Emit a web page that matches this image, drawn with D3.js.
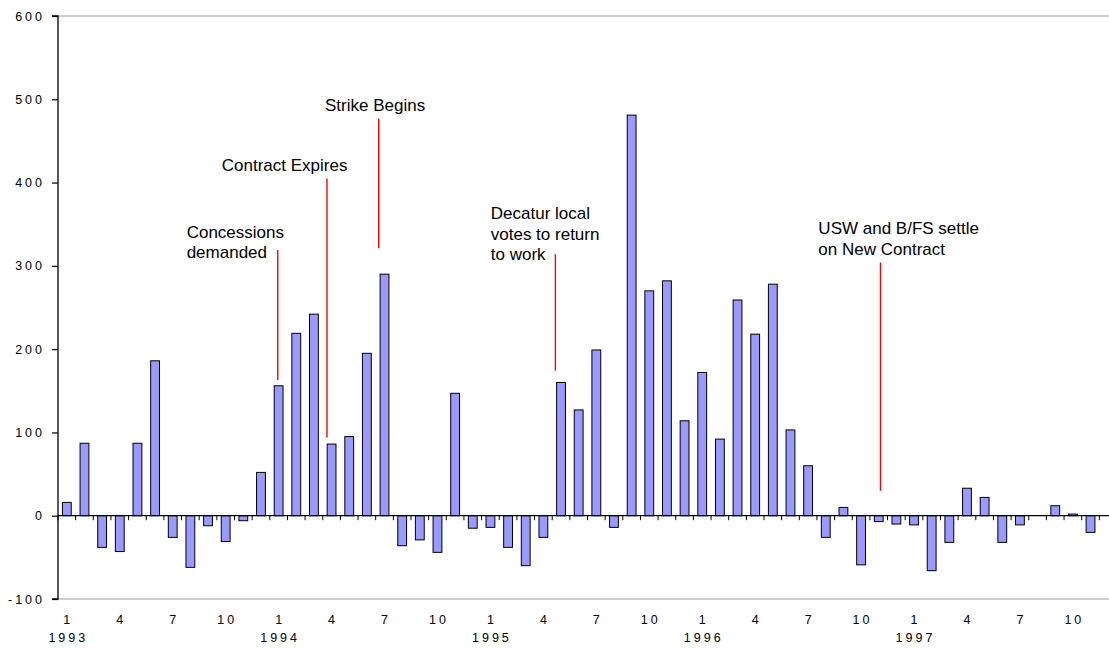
<!DOCTYPE html>
<html>
<head>
<meta charset="utf-8">
<script src="https://cdn.jsdelivr.net/npm/d3@7"></script>
<style>
  html, body { margin: 0; padding: 0; background: #fff; }
  svg { display: block; }
</style>
</head>
<body>
<svg id="chart" width="1109" height="648"></svg>
<script>
// ---- data ----
const years = [1993, 1994, 1995, 1996, 1997];
const months = [1,2,3,4,5,6,7,8,9,10,11,12];
const categories = years.flatMap(y => months.map(m => y + "-" + m));
const values1993 = [16, 87, -38, -43, 87, 186, -26, -62, -12, -31, -6, 52];
const values1994 = [156, 219, 242, 86, 95, 195, 290, -36, -29, -44, 147, -15];
const values1995 = [-14, -38, -60, -26, 160, 127, 199, -14, 481, 270, 282, 114];
const values1996 = [172, 92, 259, 218, 278, 103, 60, -26, 10, -59, -7, -10];
const values1997 = [-11, -66, -32, 33, 22, -32, -11, 0, 12, 2, -20, null];
const values = [...values1993, ...values1994, ...values1995, ...values1996, ...values1997];
const yTicks = [-100, 0, 100, 200, 300, 400, 500, 600];
const monthTickLabels = [1, 4, 7, 10];
// annotations: month index (fractional), value range of red line, text anchor (month index, value)
const annotations = [
  { lines: ["Concessions", "demanded"], tx: 6.79, ty: 334, lx: 11.95, from: 163, to: 319 },
  { lines: ["Contract Expires"], tx: 8.78, ty: 414, lx: 14.74, from: 94, to: 405 },
  { lines: ["Strike Begins"], tx: 14.63, ty: 486, lx: 17.67, from: 321, to: 477 },
  { lines: ["Decatur local", "votes to return", "to work"], tx: 24.02, ty: 356, lx: 27.68, from: 174, to: 314 },
  { lines: ["USW and B/FS settle", "on New Contract"], tx: 42.58, ty: 338, lx: 46.1, from: 30, to: 304 }
];

(function () {
// ---- layout ----
const mLeft = 58, mTop = 16, mBottom = 599, mRight = 1117;
const svg = d3.select("#chart");
const font = "'Liberation Sans', Arial, Helvetica, sans-serif";
const tickFont = 12.5, tickLS = 3;

const x = d3.scaleBand().domain(categories).range([mLeft, mRight]).paddingInner(0.5).paddingOuter(0.25);
const y = d3.scaleLinear().domain([-100, 600]).range([mBottom, mTop]);
const step = x.step();
const xAt = i => x(categories[0]) + x.bandwidth() / 2 + i * step;

// plot border lines (top & bottom gray)
svg.append("line").attr("x1", mLeft).attr("x2", 1109).attr("y1", y(600)).attr("y2", y(600))
  .attr("stroke", "#a0a0a0").attr("stroke-width", 1.2);
svg.append("line").attr("x1", mLeft).attr("x2", 1109).attr("y1", y(-100)).attr("y2", y(-100))
  .attr("stroke", "#a0a0a0").attr("stroke-width", 1.2);

// bars
svg.append("g").selectAll("rect")
  .data(values.map((v, i) => ({ v, c: categories[i] })).filter(d => d.v !== null && d.v !== 0))
  .join("rect")
  .attr("x", d => x(d.c))
  .attr("width", x.bandwidth())
  .attr("y", d => y(Math.max(0, d.v)))
  .attr("height", d => Math.abs(y(d.v) - y(0)))
  .attr("fill", "#9999ff")
  .attr("stroke", "#000")
  .attr("stroke-width", 1);

// zero line with ticks
svg.append("line").attr("x1", mLeft).attr("x2", 1109).attr("y1", y(0)).attr("y2", y(0))
  .attr("stroke", "#000").attr("stroke-width", 1.2);
svg.append("g").selectAll("line")
  .data(d3.range(0, categories.length + 1))
  .join("line")
  .attr("x1", i => mLeft + i * step).attr("x2", i => mLeft + i * step)
  .attr("y1", y(0)).attr("y2", y(0) + 4.5)
  .attr("stroke", "#000").attr("stroke-width", 1);

// y axis
const yAxis = d3.axisLeft(y).tickValues(yTicks).tickSize(6).tickPadding(13).tickFormat(d => String(d));
const ya = svg.append("g").attr("transform", `translate(${mLeft},0)`).call(yAxis);
ya.attr("font-size", null).attr("font-family", null);
ya.select(".domain").attr("stroke", "#000").attr("stroke-width", 1.3).attr("d", `M-6,${y(600)}H0V${y(-100)}H-6`);
ya.selectAll(".tick line").attr("stroke", "#000").attr("stroke-width", 1.2);
ya.selectAll(".tick text")
  .attr("font-family", font).attr("font-size", tickFont).attr("fill", "#000")
  .attr("letter-spacing", tickLS + "px").attr("dx", tickLS + 3);

// x labels
const xl = svg.append("g");
categories.forEach((c, i) => {
  const m = months[i % 12];
  const cx = x(c) + x.bandwidth() / 2 + tickLS / 2;
  if (monthTickLabels.includes(m)) {
    xl.append("text").attr("x", cx).attr("y", 623.5)
      .attr("text-anchor", "middle").attr("font-family", font).attr("font-size", tickFont)
      .attr("letter-spacing", tickLS + "px").attr("fill", "#000").text(m);
  }
  if (m === 1) {
    xl.append("text").attr("x", cx).attr("y", 641.5)
      .attr("text-anchor", "middle").attr("font-family", font).attr("font-size", tickFont)
      .attr("letter-spacing", tickLS + "px").attr("fill", "#000").text(years[Math.floor(i / 12)]);
  }
});

// annotations
const ag = svg.append("g");
annotations.forEach(a => {
  ag.append("line").attr("x1", xAt(a.lx)).attr("x2", xAt(a.lx))
    .attr("y1", y(a.to)).attr("y2", y(a.from))
    .attr("stroke", "#ff0000").attr("stroke-width", 1.4);
  const t = ag.append("text").attr("font-family", font).attr("font-size", 17).attr("fill", "#000");
  a.lines.forEach((ln, k) => {
    t.append("tspan").attr("x", xAt(a.tx)).attr("y", y(a.ty) + k * 20.6).text(ln);
  });
});
})();
</script>
</body>
</html>
